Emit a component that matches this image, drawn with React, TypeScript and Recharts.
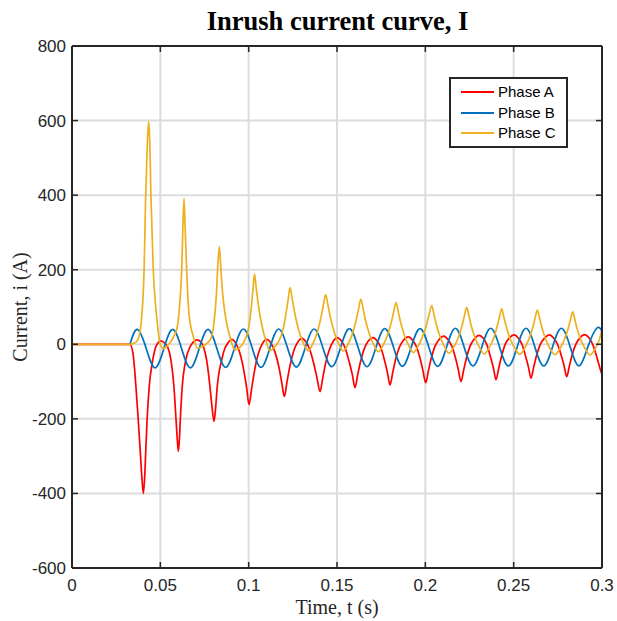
import React from 'react';
import { LineChart, Line, XAxis, YAxis, CartesianGrid, Legend } from 'recharts';

const xTicks = [0, 0.05, 0.1, 0.15, 0.2, 0.25, 0.3];
const yTicks = [-600, -400, -200, 0, 200, 400, 600, 800];
const seriesNames = ['Phase A', 'Phase B', 'Phase C'];
const seriesColors = ['#FF0000', '#0072BD', '#EDB120'];

// [time (s), current (A)]
const phaseA: [number, number][] = [
  [0, 0], [0.0328, 0], [0.0345, -24], [0.0362, -114], [0.0375, -203], [0.0387, -292], [0.0396, -360], [0.0404, -400], [0.0411, -360], [0.0417, -292], [0.0425, -203], [0.0437, -114], [0.0457, -42], [0.0472, -10], [0.0485, 3], [0.0502, 9],
  [0.052, 5], [0.0542, -8], [0.056, -42], [0.0577, -114], [0.0589, -203], [0.0596, -255], [0.0602, -287], [0.0608, -255], [0.0613, -203], [0.0624, -114], [0.0644, -42], [0.0665, -10], [0.068, 2], [0.0706, 12],
  [0.0728, 7], [0.0745, -8], [0.0762, -42], [0.0781, -114], [0.0793, -170], [0.0804, -207], [0.0813, -170], [0.0822, -114], [0.0847, -42], [0.0866, -10], [0.0882, 3], [0.0904, 13],
  [0.0929, 1], [0.0951, -25], [0.0974, -74], [0.0989, -118], [0.1002, -162], [0.1017, -118], [0.1032, -74], [0.1055, -25], [0.1077, 1], [0.1102, 13],
  [0.1127, 2], [0.1149, -21], [0.1172, -63], [0.1187, -102], [0.1202, -140], [0.1217, -101], [0.1232, -62], [0.1255, -18], [0.1277, 5], [0.13, 16],
  [0.1325, 6], [0.1347, -16], [0.137, -55], [0.1387, -91], [0.1404, -127], [0.1419, -91], [0.1434, -54], [0.1457, -14], [0.1479, 8], [0.15, 18],
  [0.1525, 9], [0.1547, -11], [0.157, -49], [0.1587, -82], [0.1602, -116], [0.1617, -82], [0.1632, -49], [0.1655, -11], [0.1677, 9], [0.1704, 18],
  [0.1727, 9], [0.1749, -10], [0.177, -45], [0.1786, -77], [0.18, -109], [0.1815, -77], [0.183, -44], [0.1853, -8], [0.1876, 11], [0.1904, 20],
  [0.1928, 11], [0.195, -7], [0.1972, -41], [0.1987, -72], [0.2002, -103], [0.2017, -72], [0.2032, -40], [0.2055, -5], [0.2078, 13], [0.2104, 22],
  [0.2128, 13], [0.215, -5], [0.2172, -39], [0.2187, -69], [0.2202, -100], [0.2217, -69], [0.2232, -38], [0.2255, -3], [0.2278, 15], [0.2304, 24],
  [0.2328, 16], [0.2349, -2], [0.237, -36], [0.2386, -65], [0.24, -95], [0.2415, -65], [0.243, -35], [0.2453, 1], [0.2476, 17], [0.2502, 25],
  [0.2526, 17], [0.2547, 0], [0.2568, -33], [0.2584, -62], [0.2598, -91], [0.2613, -62], [0.2628, -33], [0.2651, 0], [0.2676, 17], [0.2702, 25],
  [0.2726, 17], [0.2748, 0], [0.277, -31], [0.2786, -59], [0.28, -87], [0.2815, -59], [0.283, -30], [0.2853, 1], [0.2876, 18], [0.29, 26],
  [0.2925, 18], [0.2947, 0], [0.2968, -30], [0.2984, -57], [0.3, -82],
];

const phaseB: [number, number][] = [
  [0.0328, 0], [0.037, 40], [0.042, -11], [0.047, -63], [0.052, -11], [0.057, 40], [0.062, -11], [0.067, -63], [0.072, -11],
  [0.077, 40], [0.082, -11], [0.087, -62], [0.092, -10], [0.097, 41], [0.102, -10], [0.107, -62], [0.112, -10], [0.117, 41], [0.122, -10],
  [0.127, -61], [0.132, -10], [0.137, 41], [0.142, -9], [0.147, -60], [0.152, -9], [0.157, 42], [0.162, -9], [0.167, -60], [0.172, -9],
  [0.177, 42], [0.182, -8], [0.187, -59], [0.192, -8], [0.197, 42], [0.202, -8], [0.207, -59], [0.212, -8], [0.217, 43], [0.222, -8],
  [0.227, -58], [0.232, -7], [0.237, 43], [0.242, -7], [0.247, -58], [0.252, -7], [0.257, 43], [0.262, -7], [0.267, -58], [0.272, -7],
  [0.277, 43], [0.282, -7], [0.287, -58], [0.292, -7], [0.297, 43], [0.3, 35],
];

const phaseC: [number, number][] = [
  [0, 0], [0.0328, 0], [0.0355, 4], [0.0372, 11], [0.0391, 56], [0.0408, 199], [0.0417, 396], [0.0427, 545], [0.0434, 598], [0.044, 545], [0.0447, 396], [0.046, 199], [0.0472, 110], [0.0483, 56], [0.0498, 3], [0.0517, -11],
  [0.054, -4], [0.0575, 20], [0.0596, 47], [0.061, 110], [0.0621, 199], [0.0628, 320], [0.0634, 391], [0.064, 320], [0.0649, 199], [0.0662, 83], [0.0687, 20], [0.0711, -11],
  [0.0745, -4], [0.0772, 6], [0.079, 20], [0.0809, 83], [0.0818, 140], [0.0824, 199], [0.0834, 262], [0.0843, 199], [0.0852, 140], [0.0866, 83], [0.0894, 20], [0.0923, -15],
  [0.095, -8], [0.0975, 8], [0.0998, 40], [0.1013, 90], [0.1024, 145], [0.1033, 188], [0.1043, 150], [0.1055, 105], [0.1075, 50], [0.1097, 10], [0.112, -17],
  [0.1145, -8], [0.117, 8], [0.1195, 40], [0.1212, 85], [0.1224, 122], [0.1234, 152], [0.1246, 123], [0.1259, 88], [0.1284, 37], [0.1309, 3], [0.1338, -17],
  [0.1363, 1], [0.1388, 31], [0.1411, 76], [0.1424, 108], [0.1436, 133], [0.1448, 107], [0.1461, 76], [0.1486, 30], [0.1511, 0], [0.1536, -18],
  [0.1561, -1], [0.1586, 26], [0.161, 68], [0.1623, 97], [0.1635, 121], [0.1647, 97], [0.166, 67], [0.1685, 25], [0.171, -3], [0.1734, -20],
  [0.1759, -4], [0.1784, 22], [0.1809, 62], [0.1822, 90], [0.1834, 112], [0.1846, 89], [0.1859, 61], [0.1884, 21], [0.1909, -6], [0.1932, -22],
  [0.1957, -7], [0.1982, 18], [0.2009, 56], [0.2023, 83], [0.2036, 104], [0.2048, 82], [0.2061, 55], [0.2086, 17], [0.2111, -9], [0.2134, -24],
  [0.2159, -9], [0.2184, 15], [0.2209, 52], [0.2222, 78], [0.2234, 99], [0.2246, 78], [0.2259, 51], [0.2284, 14], [0.2309, -11], [0.2334, -26],
  [0.2359, -11], [0.2384, 13], [0.2407, 49], [0.242, 74], [0.2432, 95], [0.2444, 74], [0.2457, 49], [0.2482, 12], [0.2509, -12], [0.2534, -27],
  [0.2559, -13], [0.2584, 11], [0.2609, 47], [0.2622, 72], [0.2634, 92], [0.2646, 72], [0.2659, 46], [0.2684, 10], [0.2709, -14], [0.2734, -28],
  [0.2759, -14], [0.2784, 9], [0.2809, 43], [0.2822, 67], [0.2834, 87], [0.2846, 67], [0.2859, 42], [0.2884, 8], [0.2909, -15], [0.2932, -29],
  [0.2957, -15], [0.2982, 8], [0.3, 40],
];

const toRows = (pairs: [number, number][]) => pairs.map(([t, i]) => ({ t, i }));
const dataA = toRows(phaseA);
const dataB = toRows(phaseB);
const dataC = toRows(phaseC);

const AXIS_COLOR = '#262626';
const SANS = '"Liberation Sans", Arial, sans-serif';
const SERIF = '"Liberation Serif", "Times New Roman", serif';
const TICK_LEN = 6;
const TICK_FONT = 17;
const X_MARGIN = 11;
const Y_MARGIN = 6;

const BottomTick = (props: any) => {
  const { x, y, payload } = props;
  const axisY = y - X_MARGIN;
  return (
    <g>
      <line x1={x} x2={x} y1={axisY} y2={axisY - TICK_LEN} stroke={AXIS_COLOR} strokeWidth={1.5} />
      <text x={x} y={y} dy="0.71em" textAnchor="middle" fill={AXIS_COLOR} fontSize={TICK_FONT} fontFamily={SANS}>
        {String(payload.value)}
      </text>
    </g>
  );
};

const TopTick = (props: any) => {
  const { x, y } = props;
  const axisY = y + X_MARGIN;
  return <line x1={x} x2={x} y1={axisY} y2={axisY + TICK_LEN} stroke={AXIS_COLOR} strokeWidth={1.5} />;
};

const LeftTick = (props: any) => {
  const { x, y, payload } = props;
  const axisX = x + Y_MARGIN;
  return (
    <g>
      <line x1={axisX} x2={axisX + TICK_LEN} y1={y} y2={y} stroke={AXIS_COLOR} strokeWidth={1.5} />
      <text x={x} y={y} dy="0.355em" textAnchor="end" fill={AXIS_COLOR} fontSize={TICK_FONT} fontFamily={SANS}>
        {String(payload.value)}
      </text>
    </g>
  );
};

const RightTick = (props: any) => {
  const { x, y } = props;
  const axisX = x - Y_MARGIN;
  return <line x1={axisX} x2={axisX - TICK_LEN} y1={y} y2={y} stroke={AXIS_COLOR} strokeWidth={1.5} />;
};

const renderLegend = (props: any) => {
  const payload = (props.payload || []).filter((p: any) => p.type !== 'none');
  const tops = [3, 23.5, 44];
  return (
    <div
      style={{
        position: 'relative',
        boxSizing: 'border-box',
        width: 119,
        height: 71,
        border: '2px solid ' + AXIS_COLOR,
        background: '#fff',
      }}
    >
      {payload.map((p: any, idx: number) => (
        <div
          key={p.value}
          style={{
            position: 'absolute',
            left: 10,
            top: tops[idx],
            height: 20,
            display: 'flex',
            alignItems: 'center',
            whiteSpace: 'nowrap',
          }}
        >
          <span style={{ display: 'inline-block', width: 33, height: 0, borderTop: '2px solid ' + p.color }} />
          <span style={{ marginLeft: 4, fontFamily: SANS, fontSize: 15, color: '#000', lineHeight: '20px' }}>
            {p.value}
          </span>
        </div>
      ))}
    </div>
  );
};

const axisZ: any = { zIndex: 1000 };
const gridZ: any = { zIndex: -500 };

export default function App() {
  return (
    <div style={{ position: 'absolute', left: 0, top: 0, width: 617, height: 621, background: '#fff' }}>
      <LineChart width={617} height={621} margin={{ top: 45, right: 14, bottom: 23, left: 0 }}>
        <CartesianGrid stroke="#dcdcdc" strokeWidth={2} {...gridZ} />
        <XAxis
          {...axisZ}
          xAxisId={0}
          dataKey="t"
          type="number"
          domain={[0, 0.3]}
          allowDataOverflow
          ticks={xTicks}
          interval={0}
          height={30}
          tickSize={0}
          tickMargin={X_MARGIN}
          axisLine={{ stroke: AXIS_COLOR, strokeWidth: 2 }}
          tickLine={false}
          tick={<BottomTick />}
        />
        <XAxis
          {...axisZ}
          xAxisId="top"
          orientation="top"
          dataKey="t"
          type="number"
          domain={[0, 0.3]}
          allowDataOverflow
          ticks={xTicks}
          interval={0}
          height={1}
          tickSize={0}
          tickMargin={X_MARGIN}
          axisLine={{ stroke: AXIS_COLOR, strokeWidth: 2 }}
          tickLine={false}
          tick={<TopTick />}
        />
        <YAxis
          {...axisZ}
          yAxisId={0}
          type="number"
          domain={[-600, 800]}
          allowDataOverflow
          ticks={yTicks}
          interval={0}
          width={72}
          tickSize={0}
          tickMargin={Y_MARGIN}
          axisLine={{ stroke: AXIS_COLOR, strokeWidth: 2 }}
          tickLine={false}
          tick={<LeftTick />}
        />
        <YAxis
          {...axisZ}
          yAxisId="right"
          orientation="right"
          type="number"
          domain={[-600, 800]}
          allowDataOverflow
          ticks={yTicks}
          interval={0}
          width={1}
          tickSize={0}
          tickMargin={Y_MARGIN}
          axisLine={{ stroke: AXIS_COLOR, strokeWidth: 2 }}
          tickLine={false}
          tick={<RightTick />}
        />
        <Legend
          layout="vertical"
          align="center"
          verticalAlign="middle"
          wrapperStyle={{ left: 449, top: 77, width: 119, height: 71 }}
          content={renderLegend}
        />
        <Line data={dataA} dataKey="i" name={seriesNames[0]} type="monotone" stroke={seriesColors[0]} strokeWidth={1.7} dot={false} isAnimationActive={false} />
        <Line data={dataB} dataKey="i" name={seriesNames[1]} type="natural" stroke={seriesColors[1]} strokeWidth={1.7} dot={false} isAnimationActive={false} />
        <Line data={dataC} dataKey="i" name={seriesNames[2]} type="monotone" stroke={seriesColors[2]} strokeWidth={1.7} dot={false} isAnimationActive={false} />
        <Line
          data={dataC}
          dataKey="i"
          xAxisId="top"
          yAxisId="right"
          legendType="none"
          stroke="none"
          strokeWidth={0}
          dot={false}
          activeDot={false}
          isAnimationActive={false}
        />
      </LineChart>
      <svg width={617} height={621} style={{ position: 'absolute', left: 0, top: 0, pointerEvents: 'none' }}>
        <text x={337.5} y={30} textAnchor="middle" fontFamily={SERIF} fontWeight="bold" fontSize={26.5} fill="#000">
          Inrush current curve, I
        </text>
        <text x={337} y={614} textAnchor="middle" fontFamily={SERIF} fontSize={20} fill={AXIS_COLOR}>
          Time, t (s)
        </text>
        <text transform="translate(27,307) rotate(-90)" textAnchor="middle" fontFamily={SERIF} fontSize={20} fill={AXIS_COLOR}>
          Current, i (A)
        </text>
      </svg>
    </div>
  );
}
